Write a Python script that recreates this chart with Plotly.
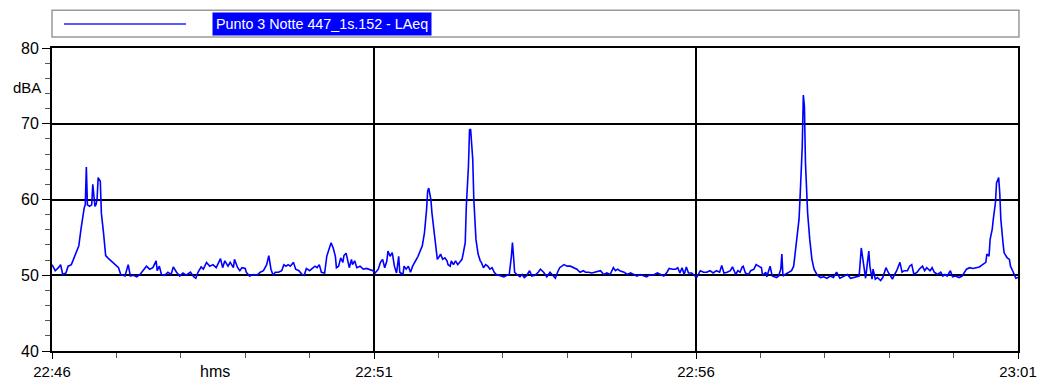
import pandas as pd
import plotly.graph_objects as go

# seconds after 22:46:00 (1 s LAeq record)
secs = [
    0, 3, 6, 8, 10, 13, 15, 18, 20, 22, 25, 27, 29, 30, 31, 32, 33, 35, 37, 38,
    40, 41, 42, 43, 45, 46, 48, 50, 52, 55, 57, 60, 62, 64, 68, 71, 73, 76, 79, 82,
    85, 88, 91, 94, 97, 98, 100, 102, 105, 108, 111, 113, 116, 119, 122, 125, 129, 132, 134, 136,
    139, 141, 144, 147, 150, 153, 157, 159, 161, 164, 166, 169, 170, 173, 175,
    177, 180, 181, 184, 188, 191, 194, 197, 200, 202, 204, 206, 208, 211, 214, 216, 218, 220, 222, 225,
    227, 230, 233, 235, 237, 240, 244, 245, 247, 249, 251, 254, 256, 258, 260, 262, 264, 265, 267, 269,
    271, 272, 274, 275, 277, 279, 280, 282, 284, 287, 290, 293, 296, 299, 301, 304, 306, 308, 310, 312,
    313, 315, 317, 319, 321, 323, 324, 327, 328, 330, 332, 334, 336, 338, 341, 345, 347,
    349, 350, 351, 353, 354, 356, 358, 359, 361, 362, 364, 366, 368, 369, 371, 372, 374, 376, 378, 380,
    382, 383, 385, 386, 388, 389, 390, 392, 393, 395, 397, 399, 400, 402, 404, 406, 408, 410, 412, 414,
    418, 421, 424, 426, 428, 429, 430, 431, 433, 436, 438, 440, 442, 445, 447, 450, 453, 455, 458, 461,
    464, 466, 469, 471, 473, 477, 480, 483, 486, 489, 492, 495, 497, 500, 503, 506, 511,
    514, 517, 520, 523, 525, 527, 529, 533, 536, 539, 542, 545, 548, 551, 554, 557, 560, 564, 567, 570,
    573, 575, 578, 581, 583, 585, 587, 589, 591, 593, 596, 599, 601, 604, 607, 610, 613, 616, 619, 622,
    624, 626, 629, 632, 634, 637, 639, 641, 643, 644, 646, 649, 651, 654, 656, 658, 661, 662, 665, 666,
    669, 671, 674,
    675, 677, 679, 680, 681, 683, 686, 689, 691, 692, 694, 696, 697, 699, 700, 701, 702, 704, 706, 708,
    710, 713, 716, 719, 722, 725, 728, 731, 734, 738, 741, 744, 747, 750, 752, 754, 756, 758, 759, 761,
    762, 764, 765, 767, 769, 772, 774, 777, 779, 783, 785, 787, 790, 792, 794, 797, 799, 801, 803, 806,
    808, 811, 813, 815, 818, 820, 822, 825, 828, 830, 832, 834, 837, 839, 842, 845, 848, 850, 852, 855,
    858, 861, 864, 867, 870, 871, 873, 874, 876, 877, 879, 880, 882, 883, 884, 886, 887, 889, 890, 892,
    893, 895, 897, 898, 900,
]
laeq = [
    51.4, 50.6, 51.0, 51.4, 50.1, 50.3, 51.2, 51.4, 52.1, 52.8, 53.9, 56.1, 58.2, 58.9, 59.3, 64.3, 59.3, 59.1, 59.3, 62.0,
    59.1, 59.3, 60.0, 62.9, 62.4, 58.2, 55.6, 52.6, 52.3, 51.9, 51.7, 51.2, 51.0, 50.1, 49.9, 51.4, 49.9, 50.0, 49.8, 50.1,
    50.6, 51.2, 50.8, 51.0, 51.9, 50.6, 51.2, 50.1, 50.0, 50.4, 50.1, 51.1, 50.4, 49.9, 50.3, 50.0, 50.4, 49.8, 49.6, 50.4,
    51.1, 50.8, 51.7, 51.2, 51.4, 51.0, 52.2, 51.0, 51.9, 51.2, 51.7, 51.0, 52.1, 51.0, 50.6,
    51.0, 50.9, 50.4, 49.9, 50.1, 50.0, 50.4, 50.6, 51.4, 52.6, 50.8, 50.0, 50.4, 50.4, 50.6, 51.4, 51.2, 51.4, 51.2, 51.7,
    50.8, 50.6, 50.1, 50.0, 50.9, 50.6, 51.0, 51.2, 51.0, 51.4, 50.4, 50.3, 52.5, 53.4, 54.3, 53.6, 52.5, 51.0, 51.2, 52.3,
    51.7, 52.6, 52.9, 52.3, 51.0, 52.1, 51.4, 51.9, 51.0, 51.2, 50.8, 50.9, 50.8, 50.6, 50.3, 50.8, 51.7, 52.1, 51.0, 51.9,
    53.2, 52.5, 53.0, 51.2, 50.3, 52.5, 50.4, 50.1, 51.2, 50.8, 51.2, 50.4, 51.2, 51.7, 52.5, 53.9, 55.6,
    58.7, 61.1, 61.5, 60.0, 58.2, 55.6, 53.4, 52.1, 52.5, 52.8, 52.1, 52.3, 51.9, 51.4, 51.2, 51.9, 51.4, 51.9, 51.4, 51.7,
    52.1, 52.8, 54.3, 59.1, 64.4, 69.2, 69.3, 65.3, 60.0, 54.7, 52.8, 51.9, 51.7, 51.0, 51.4, 51.2, 50.8, 51.0, 50.4, 50.1,
    49.9, 49.8, 50.0, 50.1, 52.5, 54.3, 52.5, 50.4, 50.1, 49.8, 50.1, 49.7, 49.9, 50.6, 49.9, 50.0, 50.4, 50.8, 50.4, 49.8,
    50.4, 50.1, 49.6, 50.4, 51.0, 51.4, 51.2, 51.2, 51.0, 50.8, 50.4, 50.6, 50.4, 50.4, 50.3, 50.4, 50.6,
    50.1, 50.3, 50.1, 51.0, 50.6, 50.8, 50.6, 50.4, 50.1, 50.3, 50.1, 49.9, 50.1, 49.9, 49.8, 50.1, 50.0, 50.3, 50.1, 49.9,
    50.4, 50.9, 50.8, 50.8, 51.0, 50.3, 51.0, 50.1, 51.1, 50.3, 50.3, 49.9, 49.8, 50.6, 50.4, 50.4, 50.6, 50.3, 50.6, 50.4,
    51.3, 50.3, 50.4, 50.6, 51.1, 50.1, 50.6, 50.4, 51.1, 51.2, 50.3, 50.1, 50.6, 50.8, 51.4, 51.2, 51.0, 50.0, 50.4, 49.8,
    51.2, 49.9, 49.7,
    49.7, 49.9, 50.8, 52.8, 49.9, 50.1, 50.3, 50.6, 51.2, 52.5, 54.7, 57.4, 60.4, 67.0, 73.8, 72.3, 64.8, 58.2, 54.7, 52.1,
    50.8, 50.0, 49.7, 49.8, 49.6, 49.9, 49.7, 50.4, 49.6, 49.9, 50.1, 49.6, 49.7, 49.8, 49.9, 53.6, 51.2, 49.6, 50.8, 53.2,
    51.2, 49.5, 50.8, 49.5, 49.7, 49.3, 49.7, 51.0, 50.4, 49.5, 50.1, 50.6, 51.7, 50.4, 50.6, 50.6, 51.2, 51.4, 50.1, 50.4,
    50.8, 51.2, 50.6, 51.0, 50.6, 51.0, 50.4, 50.1, 50.4, 49.9, 50.1, 49.9, 50.6, 49.8, 49.9, 49.7, 49.9, 50.4, 50.8, 51.0,
    50.9, 51.0, 51.1, 51.4, 51.7, 52.8, 52.5, 54.7, 56.1, 57.4, 59.6, 62.2, 62.9, 60.9, 57.4, 54.3, 53.0, 52.5, 52.3, 52.1,
    51.2, 50.6, 49.9, 49.6, 49.7,
]
start = "2000-01-01 22:46:00"
end = "2000-01-01 23:01:00"
series_name = "Punto 3 Notte 447_1s.152 - LAeq"

times = pd.Timestamp(start) + pd.to_timedelta(secs, unit="s")

FONT = "Arial, Liberation Sans, sans-serif"

fig = go.Figure()
fig.add_trace(go.Scatter(x=times, y=laeq, mode="lines", name=series_name,
                         line=dict(color="#0000ff", width=1.6)))

fig.update_layout(
    width=1039, height=383,
    margin=dict(l=52, r=21, t=48, b=32),
    paper_bgcolor="white", plot_bgcolor="white",
    showlegend=False,
    font=dict(family=FONT, size=16, color="black"),
    xaxis=dict(
        type="date", range=[start, end], tickformat="%H:%M",
        tick0=start, dtick=300000, automargin=False, tickfont=dict(size=15),
        ticks="outside", ticklen=6, tickcolor="black", tickwidth=1,
        showgrid=True, gridcolor="black", gridwidth=1.5,
        showline=True, linecolor="black", linewidth=2, mirror=True,
        zeroline=False,
        minor=dict(dtick=60000, ticks="outside", ticklen=5, tickcolor="#555", showgrid=False),
    ),
    yaxis=dict(
        range=[40, 80], dtick=10, tick0=40, automargin=False,
        ticks="outside", ticklen=8, tickcolor="black", tickwidth=1,
        showgrid=True, gridcolor="black", gridwidth=1.5,
        showline=True, linecolor="black", linewidth=2, mirror=True,
        zeroline=False,
        minor=dict(dtick=2, ticks="outside", ticklen=5, tickcolor="#555", showgrid=False),
    ),
)

# legend box drawn above the plot
fig.add_shape(type="rect", xref="paper", yref="paper", x0=0, x1=1.001, y0=1.036, y1=1.125,
              line=dict(color="#999999", width=1.5), fillcolor="white")
fig.add_shape(type="line", xref="paper", yref="paper", x0=0.0124, x1=0.1387, y0=1.079, y1=1.079,
              line=dict(color="#5a5aff", width=2))
fig.add_annotation(text=series_name, xref="paper", yref="paper", x=0.1656, y=1.079,
                   xanchor="left", yanchor="middle", showarrow=False, bgcolor="#0000ff",
                   borderpad=3, font=dict(color="white", size=14.3, family=FONT))

fig.add_annotation(text="dBA", xref="paper", yref="paper", x=-0.026, y=0.868,
                   xanchor="center", yanchor="middle", showarrow=False, font=dict(size=15))
fig.add_annotation(text="hms", xref="paper", yref="paper", x=0.169, y=-0.069,
                   xanchor="center", yanchor="middle", showarrow=False, font=dict(size=16))

# drop the default page margin so the figure fills the window exactly
fig.write_html("out.html", config={"displayModeBar": False},
               post_script="document.body.style.margin='0';")
